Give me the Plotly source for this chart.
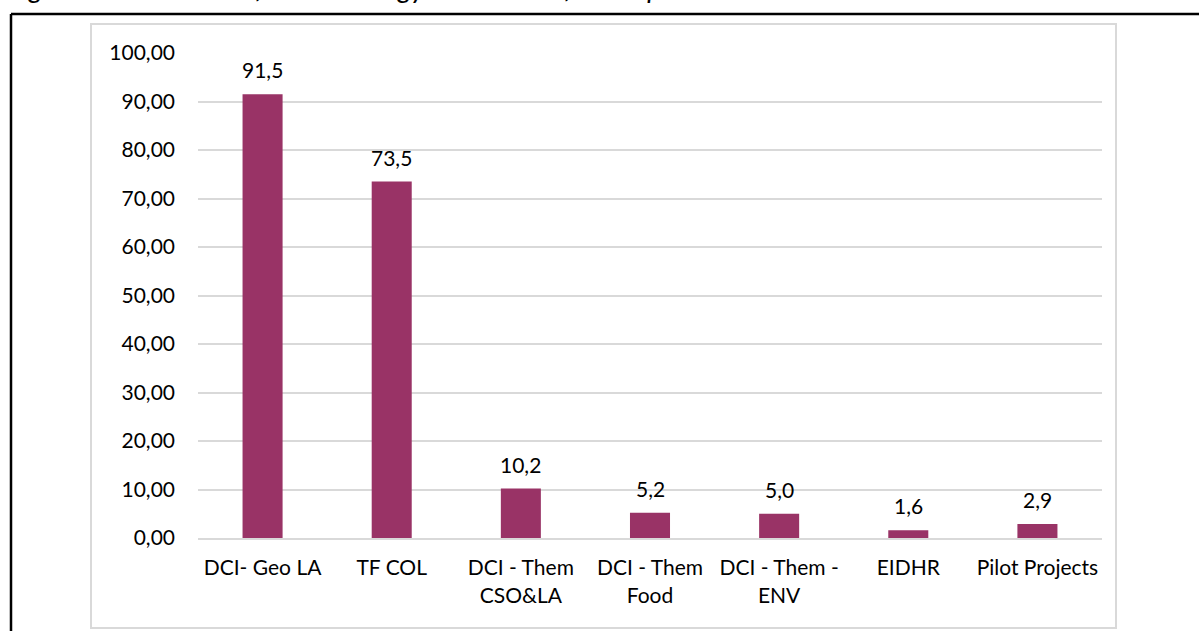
import plotly.graph_objects as go

# Allocation per instrument (EUR million)
categories = [
    "DCI- Geo LA",
    "TF COL",
    "DCI - Them<br>CSO&LA",
    "DCI - Them<br>Food",
    "DCI - Them -<br>ENV",
    "EIDHR",
    "Pilot Projects",
]
values = [91.5, 73.5, 10.2, 5.2, 5.0, 1.6, 2.9]
y_ticks = [0, 10, 20, 30, 40, 50, 60, 70, 80, 90, 100]

BAR_COLOR = "#993366"
FONT = "Lato"
FS = 21

W, H = 1199, 631
L, R, T, B = 198, 1102, 53, 538  # plot area in pixels


def px_x(px):
    return (px - L) / (R - L)


def px_y(py):
    return (B - py) / (B - T)


fig = go.Figure(
    go.Bar(
        x=categories,
        y=values,
        marker=dict(color=BAR_COLOR, line=dict(width=0)),
        width=0.31,
    )
)

# value labels above bars
for c, v in zip(categories, values):
    fig.add_annotation(
        x=c, y=v, xref="x", yref="y",
        text=f"{v:.1f}".replace(".", ","),
        showarrow=False, yanchor="bottom", yshift=10,
        font=dict(family=FONT, size=FS, color="#000"),
    )

# caption above the chart (runs off the top edge of the page)
fig.add_annotation(
    x=px_x(6), y=px_y(6), xref="paper", yref="paper",
    xanchor="left", yanchor="bottom",
    text="<i>Figure 11: Allocation for LA strategy instrument for the period 2014-2020</i>",
    showarrow=False,
    font=dict(family=FONT, size=28, color="#000"),
)

shapes = [
    # light chart border
    dict(type="rect", xref="paper", yref="paper",
         x0=px_x(91), x1=px_x(1116), y0=px_y(628), y1=px_y(24),
         line=dict(color="#d9d9d9", width=2), fillcolor="rgba(0,0,0,0)", layer="below"),
    # black page frame
    dict(type="line", xref="paper", yref="paper",
         x0=px_x(11), x1=px_x(11), y0=px_y(640), y1=px_y(14),
         line=dict(color="#000", width=2.5)),
    dict(type="line", xref="paper", yref="paper",
         x0=px_x(11), x1=px_x(1210), y0=px_y(14), y1=px_y(14),
         line=dict(color="#000", width=2.5)),
]

fig.update_layout(
    width=W, height=H,
    margin=dict(l=L, r=W - R, t=T, b=H - B, pad=0),
    paper_bgcolor="white", plot_bgcolor="white",
    separators=",.",
    showlegend=False,
    bargap=0.69,
    shapes=shapes,
    font=dict(family=FONT, size=FS, color="#000"),
    xaxis=dict(
        showgrid=False, zeroline=False, showline=True,
        linecolor="#d9d9d9", linewidth=2,
        ticks="", tickfont=dict(family=FONT, size=FS, color="#000"),
        ticklabelstandoff=10,
    ),
    yaxis=dict(
        range=[0, 100], tickvals=y_ticks, tickformat=".2f",
        showgrid=True, gridcolor="#d9d9d9", gridwidth=2,
        zeroline=False, showline=False, ticks="",
        tickfont=dict(family=FONT, size=FS, color="#000"),
        ticklabelstandoff=22,
    ),
)

fig.write_html("out.html")
